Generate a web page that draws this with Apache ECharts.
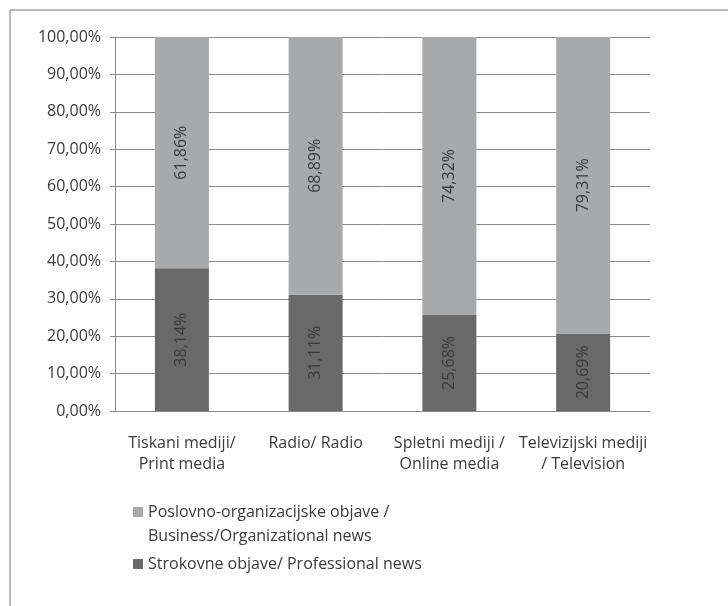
<!DOCTYPE html>
<html style="height: 100%;">
<head>
    <meta charset="utf-8">
    <script src="https://cdn.jsdelivr.net/npm/echarts@6/dist/echarts.min.js"></script>
</head>
<body style="height: 100%; margin: 0; background-color: #fff;">
    <div id="container" style="width: 728px; height: 606px;"></div>
    <script type="text/javascript">
var categories = ['Tiskani mediji/\nPrint media', 'Radio/ Radio', 'Spletni mediji /\nOnline media', 'Televizijski mediji\n/ Television'];
var professional = [38.14, 31.11, 25.68, 20.69];
var business = [61.86, 68.89, 74.32, 79.31];
var seriesNames = ['Poslovno-organizacijske objave /\nBusiness/Organizational news', 'Strokovne objave/ Professional news'];

var fontFamily = '"Open Sans", "Noto Sans", sans-serif';
var textColor = '#3a3a3a';
var lineColor = '#8a8a8a';

function pct(v) {
    return v.toFixed(2).replace('.', ',') + '%';
}

var dom = document.getElementById('container');
var myChart = echarts.init(dom);

var barLabel = {
    show: true,
    position: 'inside',
    rotate: 90,
    color: textColor,
    fontFamily: fontFamily,
    fontSize: 16,
    formatter: function (p) { return pct(p.value); }
};

var option = {
    animation: false,
    backgroundColor: '#fff',
    textStyle: { fontFamily: fontFamily },
    // top and left frame lines of the chart area
    graphic: [
        { type: 'line', shape: { x1: 10, y1: 10, x2: 728, y2: 10 }, style: { stroke: '#a3a3a3', lineWidth: 1.5 } },
        { type: 'line', shape: { x1: 10, y1: 10, x2: 10, y2: 606 }, style: { stroke: '#a3a3a3', lineWidth: 1.5 } }
    ],
    grid: { left: 115, right: 78, top: 37, bottom: 195 },
    legend: {
        orient: 'vertical',
        left: 133,
        top: 476,
        padding: 0,
        itemWidth: 10,
        itemHeight: 10,
        itemGap: 4,
        icon: 'rect',
        textStyle: { color: textColor, fontSize: 16, lineHeight: 24, fontFamily: fontFamily },
        // leading empty line keeps the icon level with the first text line
        formatter: function (name) {
            return name.indexOf('\n') >= 0 ? '\n' + name : name;
        },
        data: seriesNames
    },
    xAxis: {
        type: 'category',
        data: categories,
        axisLine: { lineStyle: { color: lineColor } },
        axisTick: { length: 5, lineStyle: { color: lineColor } },
        axisLabel: { color: textColor, fontSize: 16, lineHeight: 21, margin: 22, interval: 0 }
    },
    yAxis: {
        type: 'value',
        min: 0,
        max: 100,
        interval: 10,
        axisLine: { show: true, lineStyle: { color: lineColor } },
        axisTick: { show: true, length: 5, lineStyle: { color: lineColor } },
        splitLine: { lineStyle: { color: lineColor } },
        axisLabel: { color: textColor, fontSize: 16, margin: 14, formatter: pct }
    },
    series: [
        {
            name: seriesNames[1],
            type: 'bar',
            stack: 'total',
            barWidth: 54,
            data: professional,
            itemStyle: { color: '#696969' },
            label: barLabel
        },
        {
            name: seriesNames[0],
            type: 'bar',
            stack: 'total',
            barWidth: 54,
            data: business,
            itemStyle: { color: '#a8a9ab' },
            label: barLabel
        }
    ]
};

myChart.setOption(option);
    </script>
</body>
</html>
